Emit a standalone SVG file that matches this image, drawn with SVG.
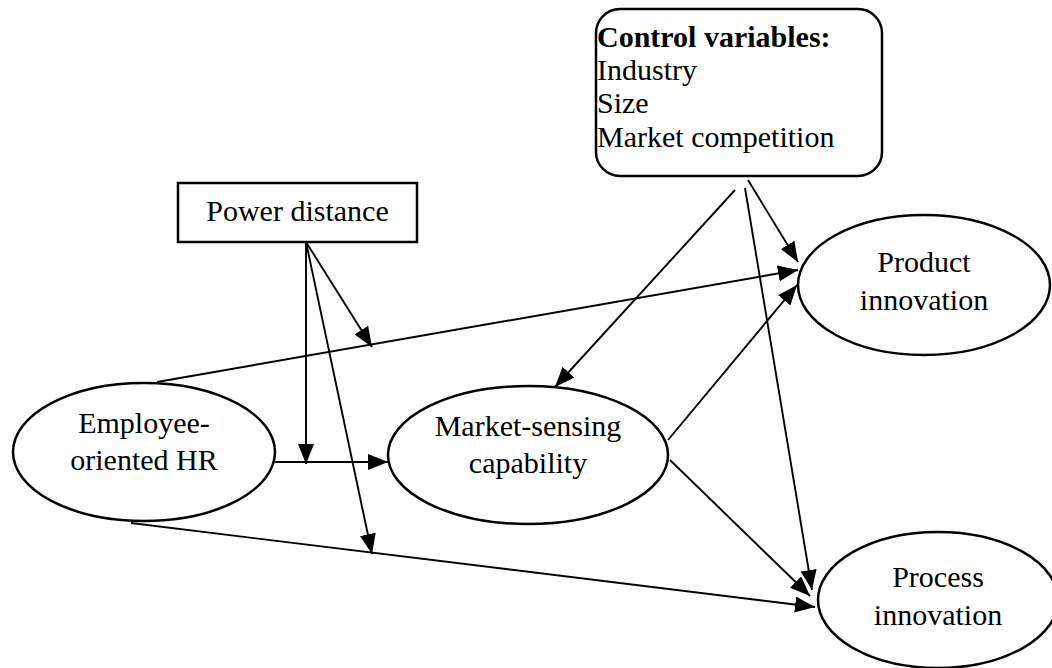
<svg xmlns="http://www.w3.org/2000/svg" width="1052" height="668" viewBox="0 0 1052 668">
<defs>
<style>
.t{font-family:"Liberation Serif","Times New Roman",serif;font-size:30px;fill:#000}
.c{text-anchor:middle}
.b{font-weight:bold}
.n{fill:#fff;stroke:#000;stroke-width:2.5}
.e{stroke:#000;stroke-width:1.9;fill:none}
.a{marker-end:url(#ah)}
</style>
<marker id="ah" markerUnits="userSpaceOnUse" markerWidth="20" markerHeight="16" refX="20" refY="8" orient="auto">
<path d="M0,0 L20,8 L0,16 z" fill="#000"/>
</marker>
</defs>
<rect width="1052" height="668" fill="#fff"/>
<g id="control">
<rect class="n" x="596" y="9" width="286" height="167" rx="24" ry="24"/>
<text class="t b" x="597" y="47">Control variables:</text>
<text class="t" x="597" y="80">Industry</text>
<text class="t" x="597" y="113">Size</text>
<text class="t" x="597" y="147">Market competition</text>
</g>
<g id="power">
<rect class="n" x="178" y="183" width="239" height="59"/>
<text class="t c" x="297.5" y="221">Power distance</text>
</g>
<g id="employee">
<ellipse class="n" cx="144" cy="452" rx="131" ry="69"/>
<text class="t c" x="144" y="433">Employee-</text>
<text class="t c" x="144" y="470">oriented HR</text>
</g>
<g id="market">
<ellipse class="n" cx="528" cy="455" rx="140" ry="69"/>
<text class="t c" x="528" y="436">Market-sensing</text>
<text class="t c" x="528" y="473">capability</text>
</g>
<g id="product">
<ellipse class="n" cx="924" cy="285" rx="126" ry="70"/>
<text class="t c" x="924" y="272">Product</text>
<text class="t c" x="924" y="310">innovation</text>
</g>
<g id="process">
<ellipse class="n" cx="938" cy="600" rx="120" ry="68"/>
<text class="t c" x="938" y="587">Process</text>
<text class="t c" x="938" y="625">innovation</text>
</g>
<g id="connectors">
<path class="e a" d="M306,242 L306,464"/>
<path class="e a" d="M306,242 L372,347"/>
<path class="e a" d="M306,242 L372,554"/>
<path class="e a" d="M275,462 L388,462"/>
<path class="e a" d="M157,382 L798,270"/>
<path class="e a" d="M131,523 L815,607"/>
<path class="e a" d="M668,440 L797,285"/>
<path class="e a" d="M670,460 L810,596"/>
<path class="e a" d="M735,190 L555,387"/>
<path class="e a" d="M748,180 L798,262"/>
<path class="e a" d="M745,188 L812,590"/>
</g>
</svg>
